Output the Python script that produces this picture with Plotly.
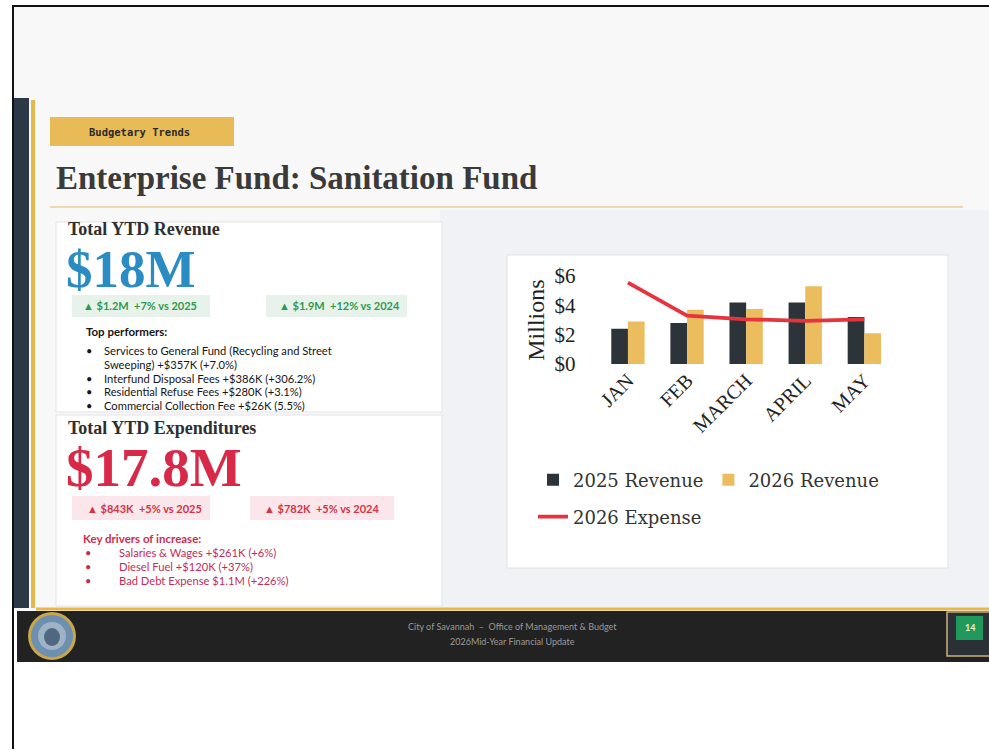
import plotly.graph_objects as go

# ---------------- data ----------------
months = ["JAN", "FEB", "MARCH", "APRIL", "MAY"]
rev_2025 = [2.4, 2.8, 4.2, 4.2, 3.2]
rev_2026 = [2.9, 3.7, 3.75, 5.3, 2.1]
exp_2026 = [5.55, 3.3, 3.05, 2.95, 3.05]
y_ticks = [0, 2, 4, 6]
y_tick_labels = ["$0", "$2", "$4", "$6"]

rev_points = [
    "Services to General Fund (Recycling and Street",
    "Sweeping) +$357K (+7.0%)",
    "Interfund Disposal Fees +$386K (+306.2%)",
    "Residential Refuse Fees +$280K (+3.1%)",
    "Commercial Collection Fee +$26K (5.5%)",
]
exp_points = [
    "Salaries & Wages +$261K (+6%)",
    "Diesel Fuel +$120K (+37%)",
    "Bad Debt Expense $1.1M (+226%)",
]

W, H = 989, 750
def X(p): return p / W
def Y(p): return 1 - p / H

SERIF = "Liberation Serif"
SANS = "Lato"

shapes = []
annotations = []

def rect(x0, y0, x1, y1, fill, line=None, lw=0, layer="below", opacity=1, kind="rect"):
    shapes.append(dict(type=kind, xref="paper", yref="paper",
                       x0=X(x0), x1=X(x1), y0=Y(y1), y1=Y(y0),
                       fillcolor=fill, opacity=opacity, layer=layer,
                       line=dict(color=line or fill, width=lw)))

def hline(x0, x1, y, color, w):
    shapes.append(dict(type="line", xref="paper", yref="paper",
                       x0=X(x0), x1=X(x1), y0=Y(y), y1=Y(y), layer="below",
                       line=dict(color=color, width=w)))

def vline(x, y0, y1, color, w):
    shapes.append(dict(type="line", xref="paper", yref="paper",
                       x0=X(x), x1=X(x), y0=Y(y0), y1=Y(y1), layer="below",
                       line=dict(color=color, width=w)))

def text(x, y, s, size, color, family=SANS, xanchor="left"):
    annotations.append(dict(x=X(x), y=Y(y), xref="paper", yref="paper", text=s,
                            showarrow=False, xanchor=xanchor, yanchor="middle",
                            font=dict(size=size, color=color, family=family)))

# ---------------- slide background ----------------
rect(12, 6, 989, 610, "#f8f8f9")
rect(440, 210, 989, 608, "#eceef4", opacity=0.6)
hline(12, 989, 6, "#111111", 2)
vline(13, 6, 749, "#111111", 2)
rect(14, 98, 29, 608, "#2b3946")
rect(31, 100, 35, 608, "#e6b84a")

# badge
rect(50, 117, 234, 146, "#e9bb57")
text(87, 132, "<b>Budgetary Trends</b>", 10.5, "#2a2a2a", family="DejaVu Sans Mono")

# title
text(54, 178, "<b>Enterprise Fund: Sanitation Fund</b>", 33, "#3a3a3a", family=SERIF)
hline(50, 963, 207, "#efd7b0", 2)

# ---------------- revenue panel ----------------
rect(56, 222, 442, 412, "#ffffff", line="#e4e4e8", lw=1)
text(66, 229, "<b>Total YTD Revenue</b>", 18, "#2f2f2f", family=SERIF)
text(64, 268.5, "<b>$18M</b>", 53, "#2a8cc3", family=SERIF)
rect(72, 295, 210, 317, "#e7f3ea")
rect(266, 295, 407, 317, "#e7f3ea")
text(81, 306, "<b>▲ $1.2M  +7% vs 2025</b>", 11, "#2f9a4f")
text(277, 306, "<b>▲ $1.9M  +12% vs 2024</b>", 11, "#2f9a4f")
text(84, 331, "<b>Top performers:</b>", 11.5, "#151515")
rev_y = [350, 364, 378, 392, 405]
bullet_rows = [0, 2, 3, 4]
for i, (yy, s) in enumerate(zip(rev_y, rev_points)):
    if i in bullet_rows:
        text(84, yy, "•", 11, "#151515")
    text(102, yy, s, 11.2, "#151515")

# ---------------- expenditures panel ----------------
rect(56, 415, 442, 606, "#ffffff", line="#e4e4e8", lw=1)
text(66, 428, "<b>Total YTD Expenditures</b>", 18, "#2f2f2f", family=SERIF)
text(64, 467, "<b>$17.8M</b>", 55, "#d82a48", family=SERIF)
rect(72, 496, 210, 520, "#fbe7eb")
rect(250, 496, 394, 520, "#fbe7eb")
text(85, 508, "<b>▲ $843K  +5% vs 2025</b>", 11, "#d23446")
text(262, 508, "<b>▲ $782K  +5% vs 2024</b>", 11, "#d23446")
text(81, 538, "<b>Key drivers of increase:</b>", 11.5, "#d02c4c")
for yy, s in zip([552, 566, 580], exp_points):
    text(83, yy, "•", 11, "#c42b57")
    text(117, yy, s, 11.2, "#c42b57")

# ---------------- chart panel ----------------
rect(507, 255, 948, 568, "#ffffff", line="#e2e2e6", lw=1)

# ---------------- footer ----------------
rect(17, 611, 989, 662, "#222222")
hline(36, 989, 609, "#e6b84a", 3)
rect(28, 612, 76, 660, "#c7a64c", kind="circle")
rect(31, 615, 73, 657, "#6d8fb0", kind="circle")
rect(38, 622, 66, 650, "#9fb3c6", kind="circle")
rect(44, 628, 60, 646, "#4f6880", kind="circle")
text(512, 626, "City of Savannah  –  Office of Management & Budget", 9, "#9a9a9a", xanchor="center")
text(512, 641, "2026Mid-Year Financial Update", 9, "#9a9a9a", xanchor="center")
rect(947, 612, 995, 656, "#2b3036", line="#c9b37c", lw=1.5)
rect(956, 616, 983, 640, "#1f9a5c")
text(969.5, 627, "<b>14</b>", 9, "#f4efc4", xanchor="center")

# ---------------- chart traces ----------------
fig = go.Figure()
fig.add_trace(go.Bar(x=months, y=rev_2025, name="2025 Revenue",
                     marker=dict(color="#2c3339", line=dict(width=0))))
fig.add_trace(go.Bar(x=months, y=rev_2026, name="2026 Revenue",
                     marker=dict(color="#ebbd5f", line=dict(width=0))))
fig.add_trace(go.Scatter(x=months, y=exp_2026, name="2026 Expense", mode="lines",
                         line=dict(color="#e5343f", width=3.8), legend="legend2"))

legend_font = dict(family="DejaVu Serif", size=18, color="#333333")
fig.update_layout(
    width=W, height=H,
    margin=dict(l=0, r=0, t=0, b=0, pad=0, autoexpand=False),
    paper_bgcolor="#ffffff",
    plot_bgcolor="rgba(0,0,0,0)",
    barmode="group", bargap=0.436, bargroupgap=0,
    shapes=shapes, annotations=annotations,
    xaxis=dict(domain=[X(598.4), X(893.9)], anchor="y", tickangle=-45,
               tickfont=dict(family=SERIF, size=20, color="#222222"),
               showgrid=False, zeroline=False, showline=False, ticks="",
               automargin=False, fixedrange=True),
    yaxis=dict(domain=[Y(364), Y(276.1)], range=[0, 6], tickvals=y_ticks,
               ticktext=y_tick_labels, tickfont=dict(family=SERIF, size=21, color="#222222"),
               showgrid=False, zeroline=False, showline=False, ticks="",
               ticklabelstandoff=22, automargin=False,
               title=dict(text="Millions", font=dict(family=SERIF, size=24, color="#222222"),
                          standoff=2),
               fixedrange=True),
    legend=dict(x=X(533), y=Y(480), xanchor="left", yanchor="middle",
                orientation="h", font=legend_font, bgcolor="rgba(0,0,0,0)",
                traceorder="normal", itemclick=False),
    legend2=dict(x=X(533), y=Y(517), xanchor="left", yanchor="middle",
                 orientation="h", font=legend_font, bgcolor="rgba(0,0,0,0)",
                 itemclick=False),
    showlegend=True,
)

fig.write_html("out.html", config={"displayModeBar": False},
               post_script="document.body.style.margin='0';document.body.style.padding='0';")
